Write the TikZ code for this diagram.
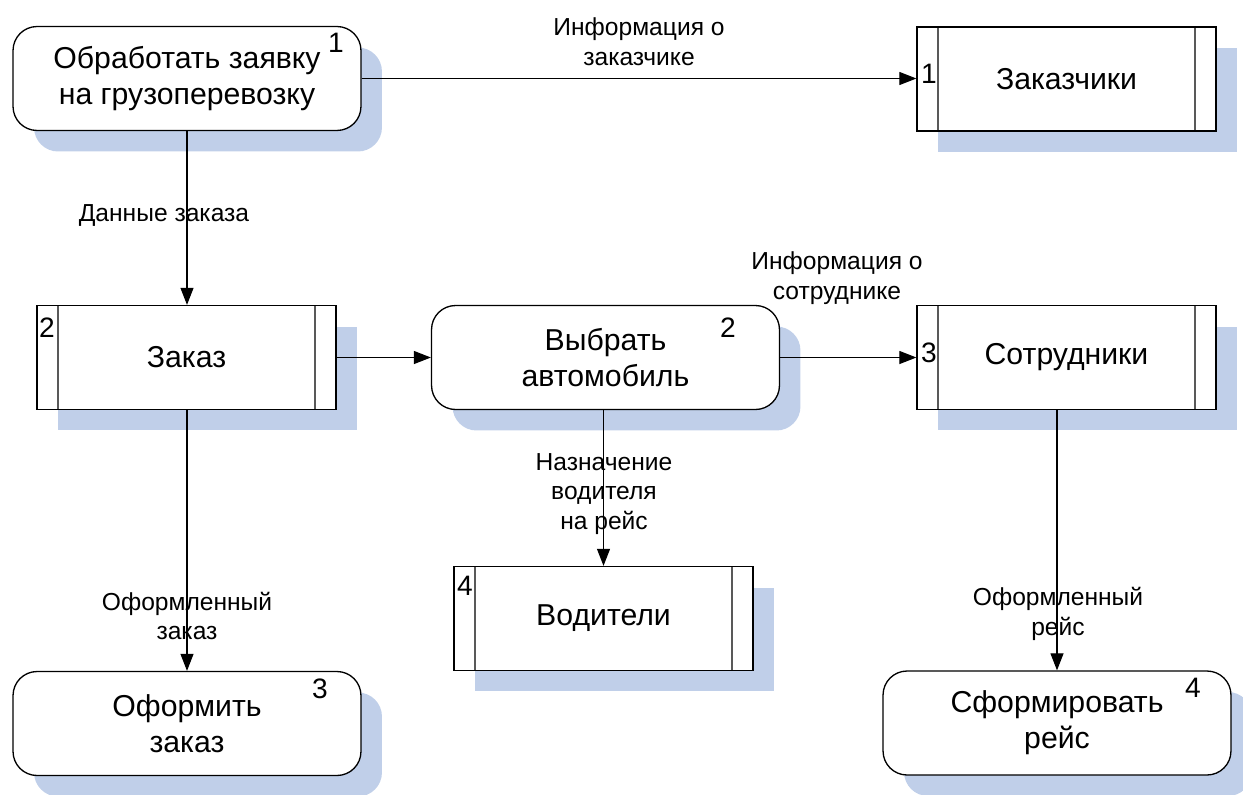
\documentclass[tikz,border=0pt]{standalone}
\usepackage{fontspec}
\setmainfont{Liberation Sans}
\usetikzlibrary{arrows.meta,shadows}
\definecolor{shadowblue}{RGB}{192,207,233}
\tikzset{
  base/.style={draw=black, line width=0.75pt, fill=white, inner sep=0pt, align=center,
    font=\fontsize{17.2}{20.5}\selectfont,
    drop shadow={shadow xshift=0.42cm, shadow yshift=-0.42cm, fill=shadowblue, opacity=1}},
  process/.style={base, rounded corners=0.48cm, minimum width=6.96cm, minimum height=2.08cm},
  store/.style={base, minimum width=5.98cm, minimum height=2.08cm,
    path picture={
      \draw[gray!70!black, line width=0.75pt]
        ([xshift=0.42cm]path picture bounding box.north west) --
        ([xshift=0.42cm]path picture bounding box.south west);
      \draw[gray!70!black, line width=0.75pt]
        ([xshift=-0.42cm]path picture bounding box.north east) --
        ([xshift=-0.42cm]path picture bounding box.south east);
    }},
  num/.style={inner sep=0pt, font=\fontsize{16}{16}\selectfont},
  lbl/.style={inner sep=0pt, align=center, font=\fontsize{14}{17}\selectfont},
  flow/.style={draw=black, line width=0.6pt, -{Triangle[length=0.34cm,width=0.26cm]}}
}
\begin{document}
\begin{tikzpicture}[x=0.02cm, y=-0.02cm]
  \useasboundingbox (0,0) rectangle (1243,794);

  % processes
  \node[process] (P1) at (187,78.5) {Обработать заявку\\на грузоперевозку};
  \node[process] (P2) at (605.5,357.5) {Выбрать\\автомобиль};
  \node[process] (P3) at (187,723.5) {Оформить\\заказ};
  \node[process] (P4) at (1057,723) {Сформировать\\рейс};

  % data stores
  \node[store] (S1) at (1066.5,79) {Заказчики};
  \node[store] (S2) at (186.5,357.5) {Заказ};
  \node[store] (S3) at (1066.5,357.5) {Сотрудники};
  \node[store] (S4) at (603.5,618.5) {Водители};

  % numbers
  \node[num] (nP1) at (336,43) {1};
  \node[num] (nP2) at (728,328) {2};
  \node[num] (nP3) at (320,689) {3};
  \node[num] (nP4) at (1193,688) {4};
  \node[num] (nS1) at (929,74) {1};
  \node[num] (nS2) at (47,328) {2};
  \node[num] (nS3) at (929,353) {3};
  \node[num] (nS4) at (465,586) {4};

  % flow labels
  \node[lbl] (L1) at (639,42) {Информация о\\заказчике};
  \node[lbl] (L2) at (164,215) {Данные заказа};
  \node[lbl] (L3) at (837,278) {Информация о\\сотруднике};
  \node[lbl] (L4) at (604,494) {Назначение\\водителя\\на рейс};
  \node[lbl] (L5) at (187,616) {Оформленный\\заказ};
  \node[lbl] (L6) at (1058,614) {Оформленный\\рейс};

  % flows
  \draw[flow] (P1.east) -- (P1.east -| S1.west);
  \draw[flow] (P1.south) -- (P1.south |- S2.north);
  \draw[flow] (S2.east) -- (S2.east -| P2.west);
  \draw[flow] (P2.east) -- (P2.east -| S3.west);
  \draw[flow] (P2.south -| S4.north) -- (S4.north);
  \draw[flow] (S2.south -| P3.north) -- (P3.north);
  \draw[flow] (S3.south -| P4.north) -- (P4.north);
\end{tikzpicture}
\end{document}
